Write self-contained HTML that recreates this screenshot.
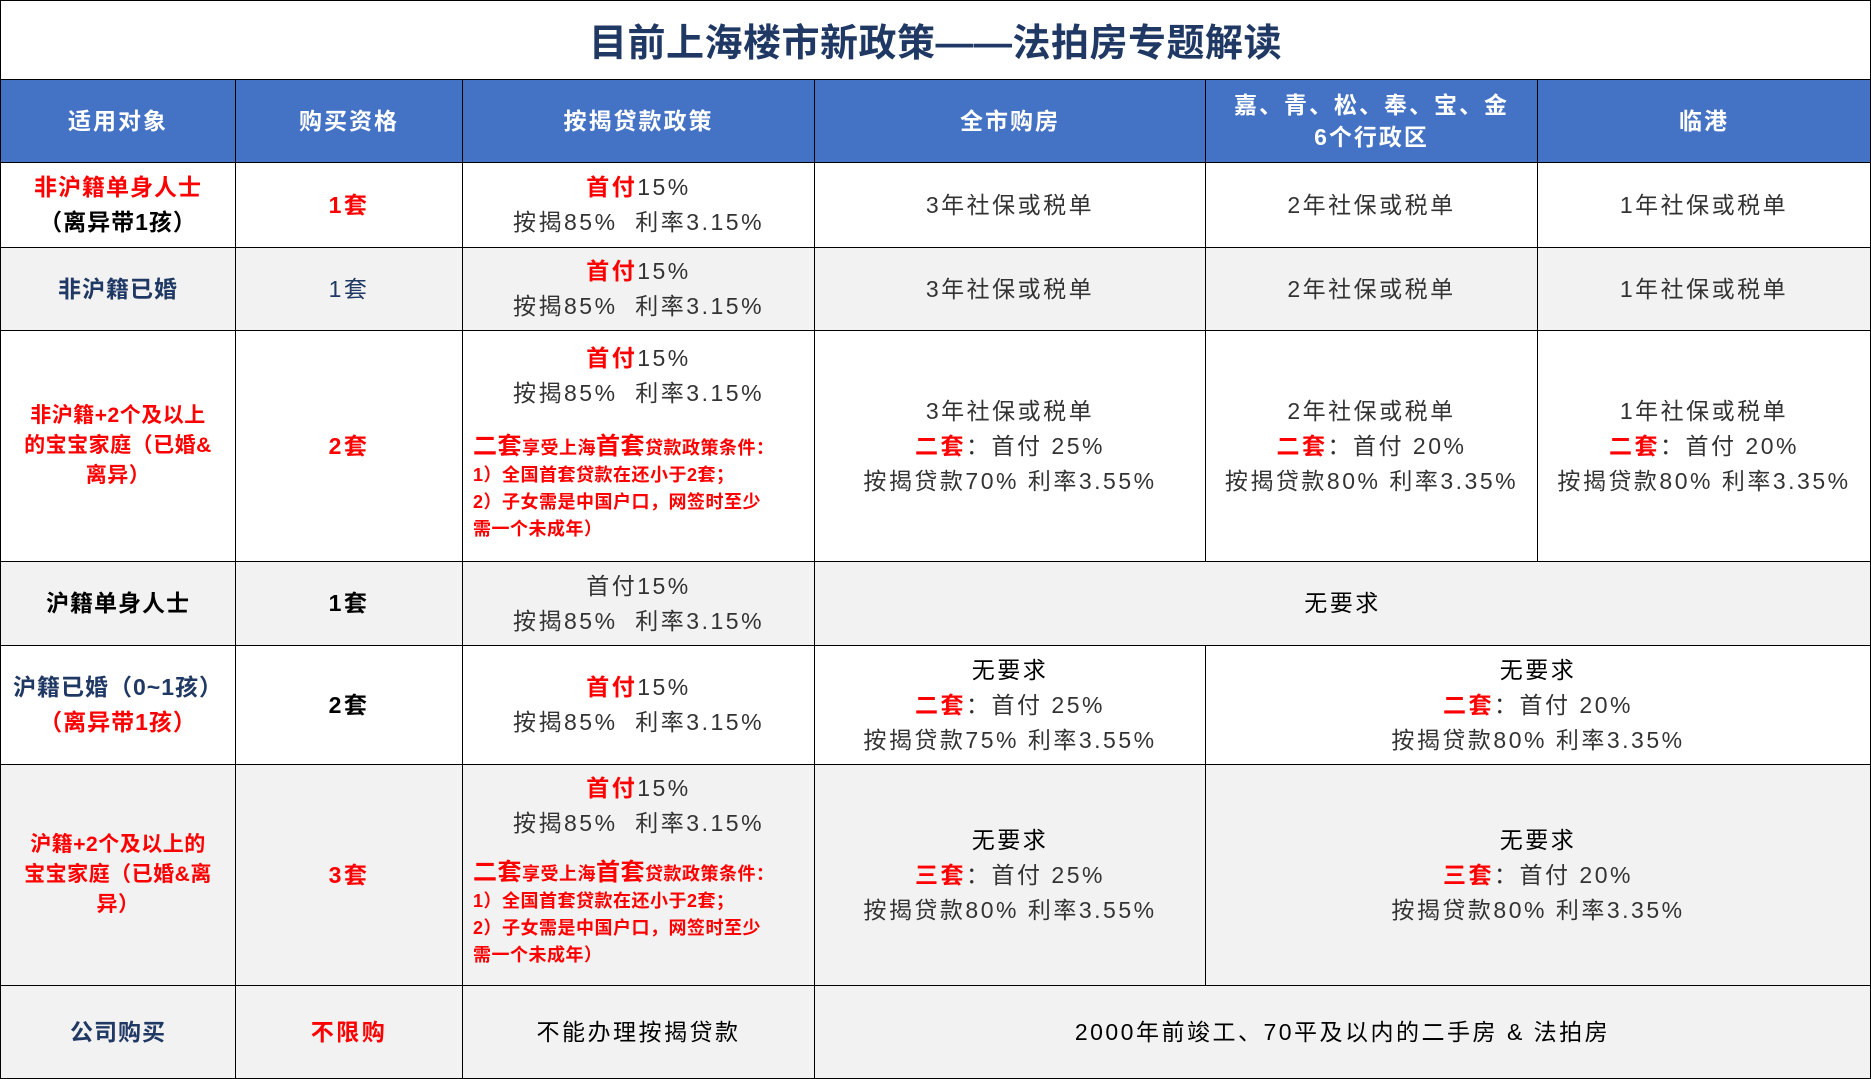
<!DOCTYPE html>
<html><head><meta charset="utf-8"><style>
*{margin:0;padding:0;box-sizing:border-box}
body{width:1871px;height:1079px;background:#fff;position:relative;overflow:hidden;font-family:"Liberation Sans","Noto Sans CJK SC",sans-serif;}
.c{position:absolute;border:1.5px solid #000;display:flex;flex-direction:column;align-items:center;justify-content:center;text-align:center;font-size:23px;color:#333;line-height:35px;letter-spacing:2.5px}
.h{background:#4472c4;color:#fff;font-weight:bold;font-size:23px;line-height:28px;letter-spacing:2px}
.g{background:#f2f2f2}
.r{color:#f00;font-weight:bold}
.b{font-weight:bold;color:#000}
.n{color:#1f3864;font-weight:bold}
.note{color:#f00;font-weight:bold;font-size:18px;line-height:27px;text-align:left;align-self:flex-start;padding-left:10px;letter-spacing:0.5px}
.note .big{font-size:24px}
</style></head><body>
<div class="c" style="left:0;top:0;width:1871px;height:80px;font-size:38px;font-weight:bold;color:#1f3864;letter-spacing:0.5px;padding-top:8px">目前上海楼市新政策——法拍房专题解读</div>
<!-- header -->
<div class="c h" style="left:0;top:79px;width:236px;height:84px">适用对象</div>
<div class="c h" style="left:235px;top:79px;width:228px;height:84px">购买资格</div>
<div class="c h" style="left:462px;top:79px;width:353px;height:84px">按揭贷款政策</div>
<div class="c h" style="left:814px;top:79px;width:392px;height:84px">全市购房</div>
<div class="c h" style="left:1205px;top:79px;width:333px;height:84px;line-height:32px">嘉、青、松、奉、宝、金<br>6个行政区</div>
<div class="c h" style="left:1537px;top:79px;width:334px;height:84px">临港</div>
<!-- row1 -->
<div class="c" style="left:0;top:162px;width:236px;height:86px;font-size:23px;letter-spacing:1px"><span class="r">非沪籍单身人士</span><span class="b">（离异带1孩）</span></div>
<div class="c r" style="left:235px;top:162px;width:228px;height:86px">1套</div>
<div class="c" style="left:462px;top:162px;width:353px;height:86px"><span><span class="r">首付</span>15%</span><span>按揭85%&nbsp; 利率3.15%</span></div>
<div class="c" style="left:814px;top:162px;width:392px;height:86px">3年社保或税单</div>
<div class="c" style="left:1205px;top:162px;width:333px;height:86px">2年社保或税单</div>
<div class="c" style="left:1537px;top:162px;width:334px;height:86px">1年社保或税单</div>
<!-- row2 -->
<div class="c g n" style="left:0;top:247px;width:236px;height:84px;font-size:23px;letter-spacing:1px">非沪籍已婚</div>
<div class="c g" style="left:235px;top:247px;width:228px;height:84px;color:#1f3864">1套</div>
<div class="c g" style="left:462px;top:247px;width:353px;height:84px"><span><span class="r">首付</span>15%</span><span>按揭85%&nbsp; 利率3.15%</span></div>
<div class="c g" style="left:814px;top:247px;width:392px;height:84px">3年社保或税单</div>
<div class="c g" style="left:1205px;top:247px;width:333px;height:84px">2年社保或税单</div>
<div class="c g" style="left:1537px;top:247px;width:334px;height:84px">1年社保或税单</div>
<!-- row3 -->
<div class="c r" style="left:0;top:330px;width:236px;height:232px;font-size:21px;line-height:30px;padding:0 6px;letter-spacing:0.5px;white-space:nowrap">非沪籍+2个及以上<br>的宝宝家庭（已婚&amp;<br>离异）</div>
<div class="c r" style="left:235px;top:330px;width:228px;height:232px">2套</div>
<div class="c" style="left:462px;top:330px;width:353px;height:232px;justify-content:flex-start;padding-top:10px"><span><span class="r">首付</span>15%</span><span>按揭85%&nbsp; 利率3.15%</span>
<div class="note" style="margin-top:22px"><span class="big">二套</span>享受上海<span class="big">首套</span>贷款政策条件：<br>1）全国首套贷款在还小于2套；<br>2）子女需是中国户口，网签时至少<br>需一个未成年）</div></div>
<div class="c" style="left:814px;top:330px;width:392px;height:232px"><span>3年社保或税单</span><span><span class="r">二套</span>：首付 25%</span><span>按揭贷款70% 利率3.55%</span></div>
<div class="c" style="left:1205px;top:330px;width:333px;height:232px"><span>2年社保或税单</span><span><span class="r">二套</span>：首付 20%</span><span>按揭贷款80% 利率3.35%</span></div>
<div class="c" style="left:1537px;top:330px;width:334px;height:232px"><span>1年社保或税单</span><span><span class="r">二套</span>：首付 20%</span><span>按揭贷款80% 利率3.35%</span></div>
<!-- row4 -->
<div class="c g b" style="left:0;top:561px;width:236px;height:85px;font-size:23px;letter-spacing:1px">沪籍单身人士</div>
<div class="c g b" style="left:235px;top:561px;width:228px;height:85px">1套</div>
<div class="c g" style="left:462px;top:561px;width:353px;height:85px"><span>首付15%</span><span>按揭85%&nbsp; 利率3.15%</span></div>
<div class="c g" style="left:814px;top:561px;width:1057px;height:85px;color:#000">无要求</div>
<!-- row5 -->
<div class="c" style="left:0;top:645px;width:236px;height:120px;font-size:23px;white-space:nowrap;letter-spacing:1px"><span class="n">沪籍已婚（0~1孩）</span><span class="r">（离异带1孩）</span></div>
<div class="c b" style="left:235px;top:645px;width:228px;height:120px">2套</div>
<div class="c" style="left:462px;top:645px;width:353px;height:120px"><span><span class="r">首付</span>15%</span><span>按揭85%&nbsp; 利率3.15%</span></div>
<div class="c" style="left:814px;top:645px;width:392px;height:120px"><span style="color:#000">无要求</span><span><span class="r">二套</span>：首付 25%</span><span>按揭贷款75% 利率3.55%</span></div>
<div class="c" style="left:1205px;top:645px;width:666px;height:120px"><span style="color:#000">无要求</span><span><span class="r">二套</span>：首付 20%</span><span>按揭贷款80% 利率3.35%</span></div>
<!-- row6 -->
<div class="c g r" style="left:0;top:764px;width:236px;height:222px;font-size:21px;line-height:30px;padding:0 6px;letter-spacing:0.5px;white-space:nowrap">沪籍+2个及以上的<br>宝宝家庭（已婚&amp;离<br>异）</div>
<div class="c g r" style="left:235px;top:764px;width:228px;height:222px">3套</div>
<div class="c g" style="left:462px;top:764px;width:353px;height:222px;justify-content:flex-start;padding-top:6px"><span><span class="r">首付</span>15%</span><span>按揭85%&nbsp; 利率3.15%</span>
<div class="note" style="margin-top:18px"><span class="big">二套</span>享受上海<span class="big">首套</span>贷款政策条件：<br>1）全国首套贷款在还小于2套；<br>2）子女需是中国户口，网签时至少<br>需一个未成年）</div></div>
<div class="c g" style="left:814px;top:764px;width:392px;height:222px"><span style="color:#000">无要求</span><span><span class="r">三套</span>：首付 25%</span><span>按揭贷款80% 利率3.55%</span></div>
<div class="c g" style="left:1205px;top:764px;width:666px;height:222px"><span style="color:#000">无要求</span><span><span class="r">三套</span>：首付 20%</span><span>按揭贷款80% 利率3.35%</span></div>
<!-- row7 -->
<div class="c g n" style="left:0;top:985px;width:236px;height:94px;font-size:23px;letter-spacing:1px">公司购买</div>
<div class="c g r" style="left:235px;top:985px;width:228px;height:94px">不限购</div>
<div class="c g" style="left:462px;top:985px;width:353px;height:94px;color:#000">不能办理按揭贷款</div>
<div class="c g" style="left:814px;top:985px;width:1057px;height:94px;color:#000">2000年前竣工、70平及以内的二手房 &amp; 法拍房</div>
</body></html>
